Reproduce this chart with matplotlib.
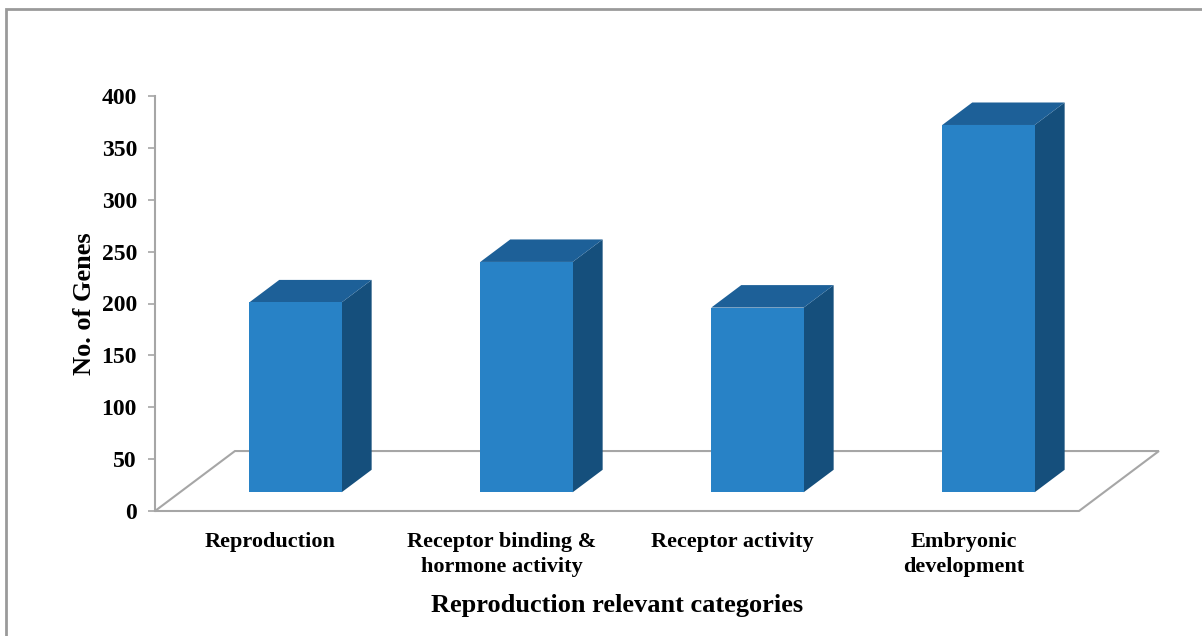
import matplotlib.pyplot as plt
from matplotlib.patches import Polygon, Rectangle

# data
categories = ["Reproduction", "Receptor binding &\nhormone activity",
              "Receptor activity", "Embryonic\ndevelopment"]
genes = [183, 222, 178, 354]
yticks = [0, 50, 100, 150, 200, 250, 300, 350, 400]

# 3d look: oblique depth of floor (x units, value units)
depth_x, depth_y = 0.346, 57.8
bar_w = 0.40
bar_z0, bar_z1 = 0.3125, 0.6875   # bar front/back as fraction of floor depth

front_c = "#2882C6"
top_c = "#1D6098"
side_c = "#154F7C"
grey = "#A6A6A6"

plt.rcParams["font.family"] = ["Liberation Serif", "DejaVu Serif"]
plt.rcParams["font.weight"] = "bold"

W, H = 1202, 636
fig = plt.figure(figsize=(W / 100, H / 100), dpi=100)
ax = fig.add_axes([155 / W, (H - 511) / H, 924 / W, 415 / H])
ax.set_xlim(-0.5, len(categories) - 0.5)
ax.set_ylim(0, 400)

# floor
x0, x1 = -0.5, len(categories) - 0.5
floor = Polygon([(x0, 0), (x1, 0), (x1 + depth_x, depth_y), (x0 + depth_x, depth_y)],
                closed=True, fill=False, edgecolor=grey, lw=1.5, clip_on=False, zorder=1)
ax.add_patch(floor)

# bars
for i, v in enumerate(genes):
    ox, oy = bar_z0 * depth_x, bar_z0 * depth_y
    dx, dy = (bar_z1 - bar_z0) * depth_x, (bar_z1 - bar_z0) * depth_y
    l, r = i + ox - bar_w / 2, i + ox + bar_w / 2
    b, t = oy, oy + v
    front = [(l, b), (r, b), (r, t), (l, t)]
    top = [(l, t), (r, t), (r + dx, t + dy), (l + dx, t + dy)]
    side = [(r, b), (r + dx, b + dy), (r + dx, t + dy), (r, t)]
    ax.add_patch(Polygon(side, closed=True, facecolor=side_c, edgecolor="none", clip_on=False, zorder=3))
    ax.add_patch(Polygon(top, closed=True, facecolor=top_c, edgecolor="none", clip_on=False, zorder=3))
    ax.add_patch(Polygon(front, closed=True, facecolor=front_c, edgecolor="none", clip_on=False, zorder=4))

# axes styling
for s in ["top", "right", "bottom"]:
    ax.spines[s].set_visible(False)
ax.spines["left"].set_color(grey)
ax.spines["left"].set_linewidth(1.5)
ax.set_yticks(yticks)
ax.set_yticklabels([str(t) for t in yticks], fontsize=17, fontweight="bold")
ax.tick_params(axis="y", direction="out", length=5, width=1.2, color=grey, pad=8)
ax.set_xticks(range(len(categories)))
ax.set_xticklabels(categories, fontsize=16, fontweight="bold", linespacing=1.35)
ax.tick_params(axis="x", length=0, pad=15)

ax.set_ylabel("No. of Genes", fontsize=19, fontweight="bold")
ax.yaxis.set_label_coords(-0.064, 0.5)
ax.set_xlabel("Reproduction relevant categories", fontsize=19, fontweight="bold")
ax.xaxis.set_label_coords(0.5, -0.2)
ax.set_facecolor("none")

# outer frame
fig.add_artist(Rectangle((6 / W, -0.1), 1.2, 1.1 - 9 / H, transform=fig.transFigure,
                         fill=False, edgecolor="#9A9A9A", lw=2))

fig.savefig("out.png", dpi=100)
